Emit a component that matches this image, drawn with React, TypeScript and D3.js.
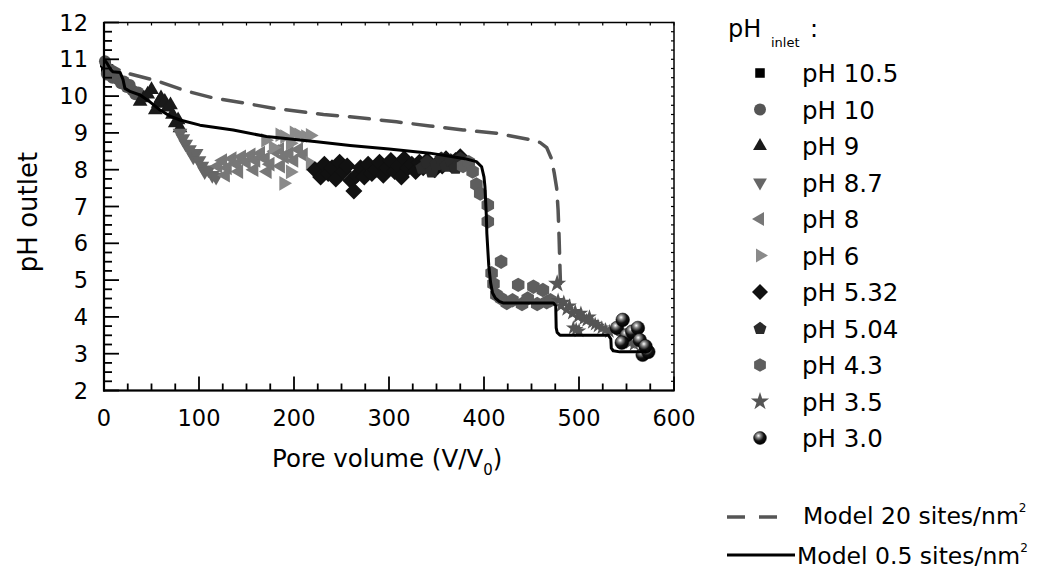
import React from "react";
import * as d3 from "d3";

// ---------- data ----------
const xTicks = [0, 100, 200, 300, 400, 500, 600];
const yTicks = [2, 3, 4, 5, 6, 7, 8, 9, 10, 11, 12];

const ph105: [number, number][] = [[0.5, 10.9], [1.5, 10.75], [2.5, 10.85], [3.5, 10.65], [5, 10.75], [6, 10.55]];
const ph10: [number, number][] = [[1, 10.95], [3, 10.6], [6, 10.7], [9, 10.5], [12, 10.55], [15, 10.45], [18, 10.35], [21, 10.4], [24, 10.25], [27, 10.3], [30, 10.15], [33, 10.05], [36, 10.1]];
const ph9: [number, number][] = [[38, 9.85], [42, 9.95], [46, 10.05], [50, 10.17], [54, 9.62], [57, 9.8], [60, 9.95], [64, 9.85], [67, 9.7], [70, 9.76], [72, 9.5], [75, 9.27], [78, 9.35], [80, 9.13]];
const ph87: [number, number][] = [[80, 9.0], [83, 8.85], [86, 8.7], [90, 8.55], [94, 8.35], [97, 8.45], [100, 8.25], [103, 8.1], [106, 7.95], [110, 8.0], [114, 7.85], [118, 7.8]];
const ph8: [number, number][] = [[120, 8.1], [125, 8.25], [130, 8.05], [135, 8.3], [140, 8.15], [145, 8.35], [150, 8.2], [155, 8.4], [160, 8.25], [165, 8.45], [170, 8.3], [175, 8.15], [180, 8.5], [185, 8.55], [190, 8.35], [195, 8.45], [128, 7.85], [142, 7.95], [158, 8.0], [172, 7.95], [186, 8.1], [200, 8.25], [205, 8.55], [210, 8.4]];
const ph6: [number, number][] = [[170, 8.8], [178, 8.6], [185, 8.95], [190, 8.9], [196, 8.72], [200, 9.0], [205, 8.95], [212, 8.9], [217, 8.93], [189, 7.63], [196, 7.94], [217, 8.17], [225, 8.0]];
const ph532: [number, number][] = [[222, 8.0], [228, 7.8], [232, 8.15], [236, 7.9], [240, 8.05], [244, 7.75], [248, 8.2], [252, 7.95], [256, 8.1], [260, 7.7], [263, 7.42], [266, 7.85], [270, 8.05], [274, 7.8], [278, 8.15], [282, 7.9], [286, 8.0], [290, 8.2], [294, 7.85], [298, 8.05], [302, 8.25], [306, 7.95], [310, 8.1], [313, 7.8], [316, 8.3], [320, 8.05], [324, 8.15], [328, 7.95], [332, 8.2], [336, 8.05], [340, 8.25], [344, 8.1], [348, 8.0], [352, 8.2], [356, 8.1], [360, 8.3], [365, 8.15], [370, 8.25], [375, 8.35]];
const ph504: [number, number][] = [[335, 8.05], [340, 8.2], [345, 7.95], [350, 8.15], [355, 8.3], [360, 8.1], [365, 8.25], [370, 8.05], [375, 8.3], [380, 8.2]];
const ph43: [number, number][] = [[378, 8.1], [384, 8.2], [388, 7.95], [392, 7.6], [396, 7.35], [404, 7.04], [404, 6.59], [418, 5.5], [408, 5.19], [410, 4.9], [413, 4.6], [418, 4.5], [424, 4.38], [430, 4.45], [436, 4.87], [440, 4.35], [446, 4.5], [452, 4.82], [456, 4.35], [462, 4.73], [466, 4.4], [470, 4.45]];
const ph35: [number, number][] = [[477, 4.9], [478, 4.45], [481, 4.3], [484, 4.4], [487, 4.2], [490, 4.3], [493, 4.1], [496, 4.15], [499, 4.0], [502, 4.1], [505, 3.95], [508, 3.9], [511, 4.0], [514, 3.85], [517, 3.8], [520, 3.75], [524, 3.7], [528, 3.65], [532, 3.6], [536, 3.65], [494, 3.7], [497, 3.66], [500, 3.62], [546, 3.45], [550, 3.35], [554, 3.3], [558, 3.25]];
const ph30: [number, number][] = [[540, 3.7], [546, 3.92], [550, 3.5], [545, 3.3], [556, 3.6], [562, 3.7], [564, 3.37], [567, 2.97], [573, 3.05], [570, 3.2]];

const model20: [number, number][] = [[0, 11.05], [6, 10.85], [20, 10.65], [55, 10.42], [85, 10.15], [115, 9.95], [150, 9.8], [178, 9.67], [231, 9.5], [259, 9.44], [308, 9.3], [343, 9.19], [378, 9.08], [413, 8.99], [448, 8.82], [459, 8.74], [466, 8.6], [471, 8.3], [474, 7.9], [476.5, 7.5], [478, 6.9], [479, 6.2], [480, 5.3], [480.5, 4.9]];
const model05: [number, number][] = [[0, 11.0], [3, 10.9], [7, 10.72], [9.5, 10.66], [17, 10.64], [20, 10.45], [22, 10.21], [28, 10.12], [38, 10.03], [48, 9.85], [59, 9.62], [70, 9.45], [80, 9.35], [101, 9.21], [136, 9.08], [171, 8.9], [224, 8.76], [259, 8.66], [300, 8.56], [343, 8.45], [380, 8.3], [392, 8.22], [397.5, 8.08], [400, 7.8], [401, 7.54], [402.5, 6.72], [403, 6.27], [405, 5.4], [407, 4.92], [409, 4.65], [412, 4.51], [416, 4.42], [420, 4.38], [473, 4.38], [475.5, 4.3], [476, 3.7], [477, 3.58], [480, 3.5], [531, 3.5], [533.5, 3.4], [534, 3.15], [536, 3.08], [543, 3.05], [571, 3.05]];

const seriesLabels = ["pH 10.5", "pH 10", "pH 9", "pH 8.7", "pH 8", "pH 6", "pH 5.32", "pH 5.04", "pH 4.3", "pH 3.5", "pH 3.0"];

// ---------- helpers ----------
function poly(n: number, r: number, rotDeg: number): string {
  const pts: string[] = [];
  for (let i = 0; i < n; i++) {
    const a = ((-90 + rotDeg + (i * 360) / n) * Math.PI) / 180;
    pts.push(`${(r * Math.cos(a)).toFixed(2)},${(r * Math.sin(a)).toFixed(2)}`);
  }
  return "M" + pts.join("L") + "Z";
}

type Shape = "square" | "circle" | "up" | "down" | "left" | "right" | "diamond" | "pentagon" | "hexagon" | "star" | "ball";

function Marker({ shape, size, color }: { shape: Shape; size: number; color: string }) {
  const r = size;
  switch (shape) {
    case "square":
      return <path d={poly(4, r * 0.9, 45)} fill={color} />;
    case "circle":
      return <circle r={r * 0.75} fill={color} />;
    case "up":
      return <path d={poly(3, r, 0)} fill={color} />;
    case "down":
      return <path d={poly(3, r, 180)} fill={color} />;
    case "left":
      return <path d={poly(3, r, -90)} fill={color} />;
    case "right":
      return <path d={poly(3, r, 90)} fill={color} />;
    case "diamond":
      return <path d={poly(4, r, 0)} fill={color} />;
    case "pentagon":
      return <path d={poly(5, r * 0.85, 0)} fill={color} />;
    case "hexagon":
      return <path d={poly(6, r * 0.85, 0)} fill={color} />;
    case "star":
      return <path d={d3.symbol().type(d3.symbolStar).size(r * r * 1.6)()!} fill={color} />;
    case "ball":
      return <circle r={r * 0.8} fill="url(#ballGrad)" stroke="#000" strokeWidth={0.5} />;
  }
  return null;
}

const seriesDefs: { data: [number, number][]; shape: Shape; color: string; size: number; lsize: number }[] = [
  { data: ph105, shape: "square", color: "#000000", size: 7, lsize: 7.5 },
  { data: ph10, shape: "circle", color: "#555555", size: 8, lsize: 8 },
  { data: ph9, shape: "up", color: "#1a1a1a", size: 8.5, lsize: 8 },
  { data: ph87, shape: "down", color: "#666666", size: 8.5, lsize: 8 },
  { data: ph8, shape: "left", color: "#777777", size: 8.5, lsize: 8 },
  { data: ph6, shape: "right", color: "#8a8a8a", size: 8.5, lsize: 8 },
  { data: ph532, shape: "diamond", color: "#111111", size: 8.5, lsize: 8 },
  { data: ph504, shape: "pentagon", color: "#2a2a2a", size: 8.5, lsize: 8 },
  { data: ph43, shape: "hexagon", color: "#5e5e5e", size: 8.5, lsize: 8 },
  { data: ph35, shape: "star", color: "#555555", size: 6.5, lsize: 8 },
  { data: ph30, shape: "ball", color: "#000000", size: 8.5, lsize: 8 },
];

const FONT = "'DejaVu Sans', Verdana, sans-serif";

export default function App() {
  const W = 1050, H = 581;
  const x = d3.scaleLinear().domain([0, 600]).range([104, 674]);
  const y = d3.scaleLinear().domain([2, 12]).range([390.5, 22.5]);
  const line = d3.line<[number, number]>().x((d) => x(d[0])).y((d) => y(d[1]));

  const xMinor = d3.range(0, 601, 25);
  const yMinor = d3.range(2, 12.001, 0.25);

  const legendY0 = 73, legendDy = 36.5;

  return (
    <svg width={W} height={H} style={{ position: "absolute", left: 0, top: 0, background: "#fff" }} fontFamily={FONT}>
      <defs>
        <radialGradient id="ballGrad" cx="0.38" cy="0.32" r="0.7">
          <stop offset="0" stopColor="#ffffff" />
          <stop offset="0.25" stopColor="#888888" />
          <stop offset="0.6" stopColor="#111111" />
          <stop offset="1" stopColor="#000000" />
        </radialGradient>
      </defs>
      <rect width={W} height={H} fill="#fff" />

      {/* data points */}
      <g>
        {seriesDefs.map((s, si) => (
          <g key={si}>
            {s.data.map((d, i) => (
              <g key={i} transform={`translate(${x(d[0])},${y(d[1])})`}>
                <Marker shape={s.shape} size={si === 9 && i === 0 ? 8 : s.size} color={s.color} />
              </g>
            ))}
          </g>
        ))}
      </g>

      {/* model lines */}
      <path d={line(model20)!} fill="none" stroke="#555" strokeWidth={3.5} strokeDasharray="20 12" strokeLinecap="round" />
      <path d={line(model05)!} fill="none" stroke="#000" strokeWidth={3} strokeLinejoin="round" />

      {/* frame */}
      <rect x={104} y={22.5} width={570} height={368} fill="none" stroke="#000" strokeWidth={1.5} />
      <line x1={104} x2={104} y1={22} y2={391.5} stroke="#000" strokeWidth={2.2} />
      <line x1={103} x2={674.5} y1={390.5} y2={390.5} stroke="#000" strokeWidth={2.2} />

      {/* x ticks */}
      {xMinor.map((v) => {
        const major = v % 100 === 0;
        return (
          <g key={"xt" + v}>
            <line x1={x(v)} x2={x(v)} y1={390.5} y2={390.5 - (major ? 14 : 7)} stroke="#000" strokeWidth={1.8} />
            <line x1={x(v)} x2={x(v)} y1={22.5} y2={25.5} stroke="#000" strokeWidth={1.2} />
          </g>
        );
      })}
      {/* y ticks */}
      {yMinor.map((v) => {
        const major = Math.abs(v - Math.round(v)) < 1e-6;
        return (
          <g key={"yt" + v}>
            <line x1={104} x2={104 + (major ? 15 : 8)} y1={y(v)} y2={y(v)} stroke="#000" strokeWidth={1.8} />
            <line x1={674} x2={671} y1={y(v)} y2={y(v)} stroke="#000" strokeWidth={1.2} />
          </g>
        );
      })}

      {/* tick labels */}
      {xTicks.map((v) => (
        <text key={"xl" + v} x={x(v)} y={426} fontSize={22.5} textAnchor="middle" fill="#000">{v}</text>
      ))}
      {yTicks.map((v) => (
        <text key={"yl" + v} x={88} y={y(v) + 8} fontSize={22.5} textAnchor="end" fill="#000">{v}</text>
      ))}

      {/* axis titles */}
      <text transform="translate(37,212) rotate(-90)" fontSize={26} textAnchor="middle" fill="#000">pH outlet</text>
      <text x={272} y={467} fontSize={24.5} fill="#000">
        Pore volume (V/V<tspan fontSize={15} dy={8}>0</tspan><tspan dy={-8}>)</tspan>
      </text>

      {/* legend */}
      <text x={728} y={37} fontSize={24} fill="#000">pH</text>
      <text x={771} y={47} fontSize={13} fill="#000">inlet</text>
      <text x={810} y={37} fontSize={24} fill="#000">:</text>
      {seriesDefs.map((s, i) => {
        const cy = legendY0 + i * legendDy;
        return (
          <g key={"lg" + i}>
            <g transform={`translate(760,${cy})`}>
              <Marker shape={s.shape} size={s.lsize} color={s.color} />
            </g>
            <text x={802} y={cy + 9} fontSize={24.5} fill="#000">{seriesLabels[i]}</text>
          </g>
        );
      })}

      <line x1={727} x2={777} y1={517} y2={517} stroke="#555" strokeWidth={3.5} strokeDasharray="18 14" />
      <text x={803} y={524} fontSize={23.5} fill="#000">
        Model 20 sites/nm<tspan fontSize={12} dy={-12}>2</tspan>
      </text>
      <line x1={727} x2={795} y1={555} y2={555} stroke="#000" strokeWidth={3} />
      <text x={797} y={564} fontSize={23.5} fill="#000">
        Model 0.5 sites/nm<tspan fontSize={12} dy={-12}>2</tspan>
      </text>
    </svg>
  );
}
